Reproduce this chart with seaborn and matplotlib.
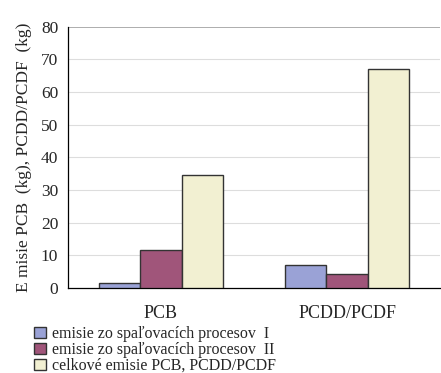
import seaborn as sns
import matplotlib.pyplot as plt
import pandas as pd

# data
categories = ["PCB", "PCDD/PCDF"]
series = ["emisie zo spaľovacích procesov  I",
          "emisie zo spaľovacích procesov  II",
          "celkové emisie PCB, PCDD/PCDF"]
vals_I = [1.5, 7.0]
vals_II = [11.6, 4.3]
vals_tot = [34.7, 67.0]

colors = ["#9aa2d6", "#a0557a", "#f2f0d2"]

df = pd.DataFrame({
    "cat": categories * 3,
    "serie": [series[0]] * 2 + [series[1]] * 2 + [series[2]] * 2,
    "val": vals_I + vals_II + vals_tot,
})

sns.set_style("white")
plt.rcParams["font.family"] = ["Liberation Serif", "DejaVu Serif"]

fig = plt.figure(figsize=(4.41, 3.73), dpi=100)
ax = fig.add_axes([0.154, 0.228, 0.844, 0.700])

sns.barplot(data=df, x="cat", y="val", hue="serie", palette=colors,
            width=0.67, gap=0, edgecolor="#333333", linewidth=1.0,
            saturation=1, ax=ax, legend=True, zorder=3)

ax.set_ylim(0, 80)
ax.set_xlim(-0.5, 1.5)
ax.set_yticks(range(0, 81, 10))
for y in range(10, 80, 10):
    ax.axhline(y, color="#dddddd", lw=0.8, zorder=0)
ax.axhline(80, color="#a0a0a0", lw=1.2, zorder=0)

for s in ["top", "right"]:
    ax.spines[s].set_visible(False)
for s in ["left", "bottom"]:
    ax.spines[s].set_color("black")
    ax.spines[s].set_linewidth(0.9)

ax.tick_params(axis="y", direction="out", length=4, width=0.8, color="black",
               labelsize=12.5, pad=3)
ax.tick_params(axis="x", which="major", length=0, labelsize=13, pad=12)
ax.set_xticks([-0.5, 0.5, 1.5], minor=True)
ax.tick_params(axis="x", which="minor", direction="out", length=4, width=0.8, color="black")

ax.set_xlabel("")
ax.set_ylabel("E misie PCB  (kg), PCDD/PCDF  (kg)", fontsize=12.5, labelpad=6)

handles, labels = ax.get_legend_handles_labels()
ax.legend_.remove()
fig.legend(handles, labels, loc="upper left", bbox_to_anchor=(0.078, 0.126),
           frameon=False, fontsize=11.5, handlelength=0.7, handleheight=0.7,
           handletextpad=0.4, labelspacing=0.0, borderpad=0, borderaxespad=0)

fig.savefig("out.png", dpi=100)
